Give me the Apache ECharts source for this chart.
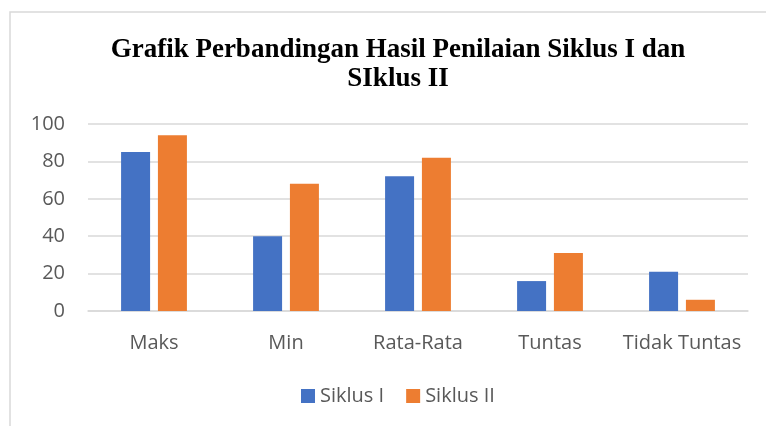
<!DOCTYPE html>
<html>
<head>
<meta charset="utf-8">
<script src="https://cdn.jsdelivr.net/npm/echarts@6/dist/echarts.min.js"></script>
<style>
  html, body { margin: 0; padding: 0; background: #fff; }
  #chart { width: 766px; height: 426px; }
</style>
</head>
<body>
<div id="chart"></div>
<script>
const categories = ['Maks', 'Min', 'Rata-Rata', 'Tuntas', 'Tidak Tuntas'];
const siklus1 = [85, 40, 72, 16, 21];
const siklus2 = [94, 68, 82, 31, 6];
const yTicks = { min: 0, max: 100, interval: 20 };

let myChart = echarts.init(document.getElementById('chart'));
myChart.setOption({
    animation: false,
    color: ['#4472c4', '#ed7d31'],
    graphic: [{
        type: 'rect',
        shape: { x: 10, y: 12, width: 800, height: 500 },
        style: { fill: 'none', stroke: '#d9d9d9', lineWidth: 1.5 },
        silent: true
    }],
    title: {
        text: 'Grafik Perbandingan Hasil Penilaian Siklus I dan\nSIklus II',
        left: 393,
        textAlign: 'center',
        top: 31,
        textStyle: {
            fontFamily: 'Liberation Serif',
            fontWeight: 'bold',
            fontSize: 27,
            lineHeight: 29,
            color: '#000'
        }
    },
    legend: {
        bottom: 15,
        left: 296,
        itemWidth: 14,
        itemHeight: 14,
        itemGap: 22,
        icon: 'rect',
        textStyle: { fontFamily: 'Open Sans', fontSize: 20, color: '#595959' },
        data: ['Siklus I', 'Siklus II']
    },
    grid: { left: 88, right: 18, top: 124, bottom: 115, containLabel: false },
    xAxis: {
        type: 'category',
        data: categories,
        axisLine: { lineStyle: { color: '#d9d9d9', width: 1.5 } },
        axisTick: { show: false },
        axisLabel: { fontFamily: 'Open Sans', fontSize: 20, color: '#595959', margin: 22, interval: 0 }
    },
    yAxis: {
        type: 'value',
        min: yTicks.min,
        max: yTicks.max,
        interval: yTicks.interval,
        axisLine: { show: false },
        axisTick: { show: false },
        splitLine: { lineStyle: { color: '#d9d9d9', width: 1.5 } },
        axisLabel: { fontFamily: 'Open Sans', fontSize: 20, color: '#595959', margin: 23 }
    },
    series: [
        { name: 'Siklus I', type: 'bar', data: siklus1, barWidth: 29, barGap: '27%' },
        { name: 'Siklus II', type: 'bar', data: siklus2, barWidth: 29, barGap: '27%' }
    ]
});
</script>
</body>
</html>
